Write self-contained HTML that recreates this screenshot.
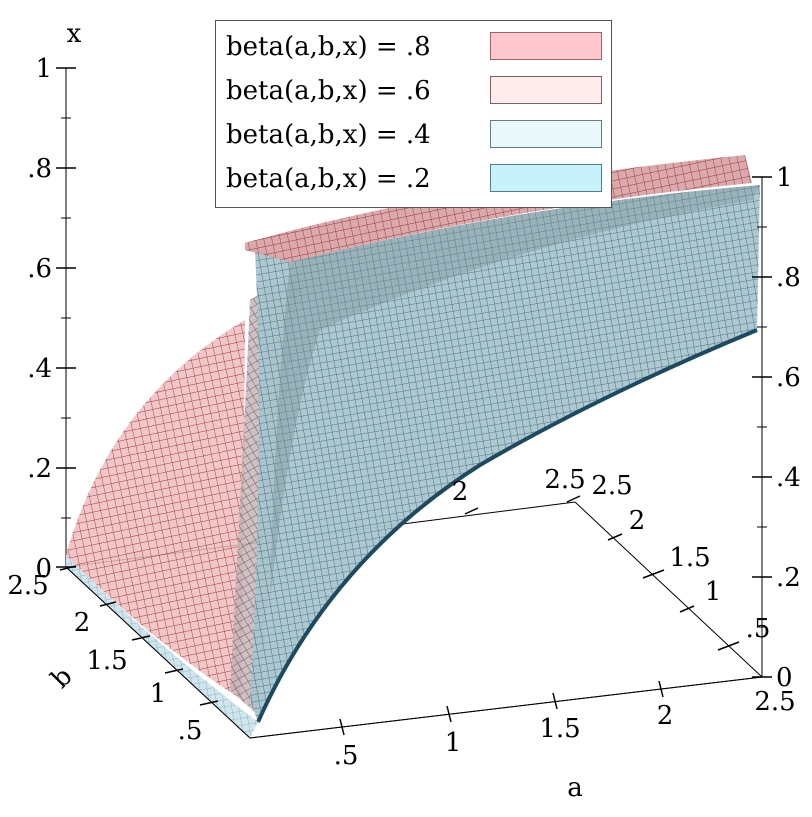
<!DOCTYPE html>
<html><head><meta charset="utf-8"><style>
html,body{margin:0;padding:0;background:#fff}
svg text{font-family:"DejaVu Serif","Liberation Serif",serif;font-size:26px;fill:#000}
</style></head><body>
<svg width="812" height="812" viewBox="0 0 812 812" xmlns="http://www.w3.org/2000/svg">
<defs>
<pattern id="mr" width="8" height="8" patternUnits="userSpaceOnUse" patternTransform="rotate(-12)">
<path d="M0 0H8M0 0V8" stroke="#902028" stroke-width="0.9" opacity="0.85"/></pattern>
<pattern id="mb" width="7" height="7" patternUnits="userSpaceOnUse" patternTransform="rotate(-10)">
<path d="M0 0H7M0 0V7" stroke="#1e4a5e" stroke-width="0.8" opacity="0.85"/></pattern>
<pattern id="mg" width="7" height="7" patternUnits="userSpaceOnUse" patternTransform="rotate(-30)">
<path d="M0 0H7M0 0V7" stroke="#303838" stroke-width="0.8" opacity="0.85"/></pattern>
</defs>
<g stroke="#000" stroke-width="1" fill="none">
<line x1="66" y1="68" x2="66" y2="567"/>
<line x1="66" y1="567" x2="575" y2="502"/>
<line x1="575" y1="502" x2="762" y2="677"/>
<line x1="762" y1="177" x2="762" y2="677"/>
<line x1="250" y1="738" x2="762" y2="677"/>
<line x1="66" y1="567" x2="250" y2="738"/>
</g>
<path d="M66,555 Q110,400 245,320 L242,700 Q150,640 66,555Z" fill="#efbcbc" opacity="0.85"/>
<path d="M66,555 Q110,400 245,320 L242,700 Q150,640 66,555Z" fill="url(#mr)"/>
<path d="M230,690 Q245,420 250,300 L300,270 Q280,450 258,715Z" fill="#c8b4b8" opacity="0.85"/>
<path d="M230,690 Q245,420 250,300 L300,270 Q280,450 258,715Z" fill="url(#mg)"/>
<path d="M255,250 L290,262 Q520,205 760,185 L757,330 Q600,395 480,465 Q330,560 258,722 L250,700 Q265,450 255,250Z" fill="#a9c5cd" opacity="0.95"/>
<path d="M255,250 L290,262 Q520,205 760,185 L757,330 Q600,395 480,465 Q330,560 258,722 L250,700 Q265,450 255,250Z" fill="url(#mb)"/>
<path d="M258,722 Q330,560 480,465 Q600,395 757,330" stroke="#1e4a60" stroke-width="4" fill="none"/>
<path d="M290,262 Q520,205 760,185 L752,200 Q520,240 320,330 Q290,420 270,600 Q275,400 290,262Z" fill="#7a9098" opacity="0.4"/>
<path d="M245,243 Q450,185 745,155 L752,183 Q520,205 290,262 L245,250Z" fill="#d8a4a8" opacity="0.95"/>
<path d="M245,243 Q450,185 745,155 L752,183 Q520,205 290,262 L245,250Z" fill="url(#mr)"/>
<path d="M66,555 L66,567 L250,738 L258,722 Q150,640 66,555Z" fill="#d0e6ee"/>
<path d="M66,555 L66,567 L250,738 L258,722 Q150,640 66,555Z" fill="url(#mb)" opacity="0.5"/>
<g stroke="#000" stroke-width="1">
<line x1="250" y1="738" x2="762" y2="677"/>
<line x1="66" y1="567" x2="250" y2="738"/>
<line x1="762" y1="177" x2="762" y2="677"/>
</g>
<g stroke="#000" stroke-width="1.5">
<line x1="56" y1="68" x2="76" y2="68"/><line x1="56" y1="168" x2="76" y2="168"/><line x1="56" y1="268" x2="76" y2="268"/><line x1="56" y1="368" x2="76" y2="368"/><line x1="56" y1="468" x2="76" y2="468"/><line x1="56" y1="567" x2="76" y2="567"/>
<line x1="752" y1="177" x2="772" y2="177"/><line x1="752" y1="277" x2="772" y2="277"/><line x1="752" y1="377" x2="772" y2="377"/><line x1="752" y1="477" x2="772" y2="477"/><line x1="752" y1="577" x2="772" y2="577"/><line x1="752" y1="677" x2="772" y2="677"/>
<line x1="340" y1="719" x2="344" y2="735"/><line x1="447" y1="706" x2="451" y2="722"/><line x1="553" y1="693" x2="557" y2="709"/><line x1="659" y1="681" x2="663" y2="697"/>
<line x1="465" y1="514" x2="478" y2="508"/><line x1="567" y1="502" x2="580" y2="496"/>
<line x1="608" y1="540" x2="622" y2="534"/><line x1="643" y1="578" x2="664" y2="570"/><line x1="680" y1="612" x2="694" y2="606"/><line x1="718" y1="650" x2="739" y2="642"/>
<line x1="60" y1="570" x2="76" y2="566"/><line x1="100" y1="606" x2="116" y2="602"/><line x1="132" y1="640" x2="150" y2="636"/><line x1="165" y1="673" x2="183" y2="669"/><line x1="200" y1="705" x2="218" y2="701"/>
</g>
<g stroke="#000" stroke-width="1">
<line x1="61" y1="118" x2="71" y2="118"/><line x1="61" y1="218" x2="71" y2="218"/><line x1="61" y1="318" x2="71" y2="318"/><line x1="61" y1="418" x2="71" y2="418"/><line x1="61" y1="518" x2="71" y2="518"/>
<line x1="757" y1="227" x2="767" y2="227"/><line x1="757" y1="327" x2="767" y2="327"/><line x1="757" y1="427" x2="767" y2="427"/><line x1="757" y1="527" x2="767" y2="527"/><line x1="757" y1="627" x2="767" y2="627"/>
</g>
<text x="74" y="42" text-anchor="middle">x</text>
<g text-anchor="end">
<text x="52" y="77">1</text><text x="52" y="177">.8</text><text x="52" y="277">.6</text><text x="52" y="377">.4</text><text x="52" y="477">.2</text><text x="52" y="577">0</text>
</g>
<g text-anchor="start">
<text x="776" y="186">1</text><text x="776" y="286">.8</text><text x="776" y="386">.6</text><text x="776" y="486">.4</text><text x="776" y="586">.2</text><text x="776" y="686">0</text>
</g>
<g text-anchor="middle">
<text x="346" y="764">.5</text><text x="453" y="751">1</text><text x="560" y="737">1.5</text><text x="665" y="724">2</text><text x="775" y="710">2.5</text>
<text x="460" y="500">2</text><text x="565" y="488">2.5</text>
<text x="612" y="494">2.5</text><text x="637" y="529">2</text><text x="690" y="566">1.5</text><text x="713" y="600">1</text><text x="758" y="637">.5</text>
<text x="28" y="594">2.5</text><text x="82" y="631">2</text><text x="107" y="669">1.5</text><text x="158" y="702">1</text><text x="190" y="739">.5</text>
<text x="575" y="796">a</text>
</g>
<text x="62" y="686" text-anchor="middle" transform="rotate(-45 62 678)">b</text>
<rect x="215.5" y="20.5" width="396" height="187" fill="#fff" stroke="#555"/>
<g text-anchor="start">
<text x="226" y="55">beta(a,b,x) = .8</text>
<text x="226" y="99">beta(a,b,x) = .6</text>
<text x="226" y="143">beta(a,b,x) = .4</text>
<text x="226" y="187">beta(a,b,x) = .2</text>
</g>
<rect x="490.5" y="32.5" width="111" height="27" fill="#ffc8cc" stroke="#a06068"/>
<rect x="490.5" y="76.5" width="111" height="27" fill="#ffecec" stroke="#806068"/>
<rect x="490.5" y="120.5" width="111" height="27" fill="#eaf8fc" stroke="#608088"/>
<rect x="490.5" y="164.5" width="111" height="27" fill="#c8f2fa" stroke="#508090"/>
</svg>
</body></html>
